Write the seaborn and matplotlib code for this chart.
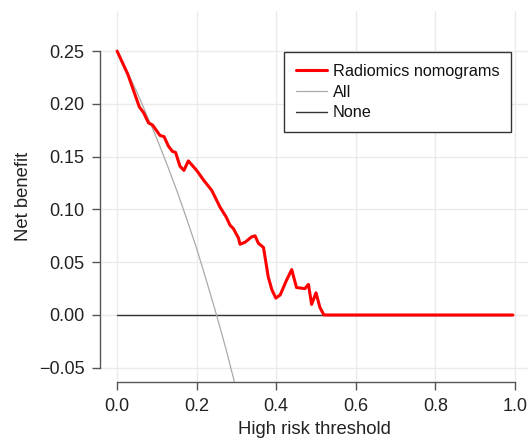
import seaborn as sns
import matplotlib.pyplot as plt
import pandas as pd

# decision curve, values
thr_model = [0.0, 0.027, 0.056, 0.066, 0.079, 0.089, 0.108, 0.118, 0.129, 0.139,
             0.147, 0.158, 0.168, 0.179, 0.200, 0.217, 0.238, 0.259, 0.274, 0.284,
             0.292, 0.305, 0.309, 0.322, 0.338, 0.347, 0.355, 0.368, 0.380, 0.389,
             0.399, 0.410, 0.426, 0.439, 0.451, 0.472, 0.481, 0.489, 0.500, 0.510,
             0.520, 0.995]
nb_model = [0.250, 0.228, 0.197, 0.192, 0.182, 0.180, 0.170, 0.169, 0.160, 0.155,
            0.154, 0.141, 0.137, 0.146, 0.137, 0.128, 0.118, 0.102, 0.093, 0.085,
            0.082, 0.073, 0.067, 0.069, 0.074, 0.075, 0.068, 0.064, 0.036, 0.024,
            0.016, 0.019, 0.033, 0.043, 0.026, 0.025, 0.029, 0.010, 0.021, 0.007,
            0.000, 0.000]

thr_all = [0.0, 0.025, 0.05, 0.075, 0.10, 0.125, 0.15, 0.175, 0.20, 0.225,
           0.25, 0.275, 0.30, 0.35]
nb_all = [0.250, 0.231, 0.211, 0.189, 0.167, 0.143, 0.118, 0.091, 0.063, 0.032,
          0.000, -0.034, -0.071, -0.154]

thr_none = [0.0, 0.995]
nb_none = [0.0, 0.0]

sns.set_style("whitegrid", {
    "xtick.bottom": True, "ytick.left": True,
    "xtick.color": "#555555", "ytick.color": "#555555",
    "axes.edgecolor": "#555555", "grid.color": "#ebebeb",
})
plt.rcParams['font.family'] = ['Liberation Sans', 'DejaVu Sans']
plt.rcParams['xtick.major.size'] = 5.8
plt.rcParams['ytick.major.size'] = 5.8
plt.rcParams['xtick.major.width'] = 1.0
plt.rcParams['ytick.major.width'] = 1.0

fig = plt.figure(figsize=(5.28, 4.38), dpi=100)
ax = fig.add_axes([100 / 528, 56.3 / 438, 428 / 528, 370.7 / 438])

sns.lineplot(x=thr_model, y=nb_model, color="#ff0000", linewidth=2.2,
             label="Radiomics nomograms", ax=ax, zorder=4)
sns.lineplot(x=thr_all, y=nb_all, color="#aaaaaa", linewidth=0.9,
             label="All", ax=ax, zorder=3)
sns.lineplot(x=thr_none, y=nb_none, color="#333333", linewidth=1.0,
             label="None", ax=ax, zorder=2)

ax.set_xlim(-0.043, 1.033)
ax.set_ylim(-0.0632, 0.288)
ax.set_xticks([0.0, 0.2, 0.4, 0.6, 0.8, 1.0])
ax.set_yticks([-0.05, 0.0, 0.05, 0.10, 0.15, 0.20, 0.25])
ax.set_xticklabels(["0.0", "0.2", "0.4", "0.6", "0.8", "1.0"])
ax.set_yticklabels(["\u22120.05", "0.00", "0.05", "0.10", "0.15", "0.20", "0.25"])

ax.grid(True, color="#ebebeb", linewidth=1.0)
for s in ["top", "right"]:
    ax.spines[s].set_visible(False)
for s in ["left", "bottom"]:
    ax.spines[s].set_color("#555555")
    ax.spines[s].set_linewidth(1.0)
ax.spines["left"].set_bounds(-0.05, 0.25)
ax.spines["bottom"].set_bounds(0.0, 1.0)
ax.tick_params(axis="both", labelsize=13, labelcolor="#222222")
ax.tick_params(axis="y", pad=5.5)
ax.tick_params(axis="x", pad=6)

ax.set_xlabel("High risk threshold", fontsize=13.3, color="#222222", labelpad=4)
ax.set_ylabel("Net benefit", fontsize=13.3, color="#222222", labelpad=5)

leg = ax.legend(loc="upper right", bbox_to_anchor=(0.960, 0.889), borderaxespad=0,
                fontsize=11.7, frameon=True, fancybox=False, framealpha=1,
                edgecolor="#333333", handlelength=1.9, handletextpad=0.35,
                labelspacing=0.35, borderpad=0.72)
leg.get_frame().set_linewidth(1.0)
for t in leg.get_texts():
    t.set_color("#111111")

fig.savefig("out.png", dpi=100)
